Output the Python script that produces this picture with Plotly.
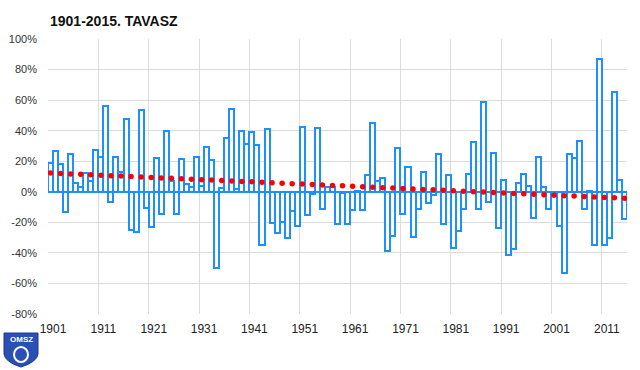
import numpy as np
import plotly.graph_objects as go

years = list(range(1901, 2016))
values = [
    19, 27, 18, -13.5, 25, 6, 3, 12, 7, 27.5,
    23, 56, -7, 22.5, 13, 47.5, -25, -26.5, 53.5, -10.5,
    -23, 22, -14.5, 39.5, 7, -14.5, 21.5, 5, 3, 23,
    3.5, 29, 20.5, -50, 2.5, 35.5, 54, 2, 40, 31.5,
    39, 30.5, -35, 41, -20.5, -27, -19.5, -30, -12.5, -22.5,
    42.5, -15, -1.5, 41.5, -11, 3, 3, -21, -1, -21,
    -12, 0.5, -12, 11, 45, 7, 9, -38.5, -29, 28.5,
    -14.5, 16.5, -29.5, -11.5, 13, -7.5, -2, 24.5, -21, 11,
    -36.5, -25.5, -11.5, 11.5, 32.5, -11.5, 59, -6.5, 25.5, -23.5,
    7.5, -41.5, -37.5, 5.5, 11.5, 3.5, -17, 22.5, 3, -11,
    -0.5, -22.5, -53, 24.5, 22, 33.5, -11, 0.5, -35, 87,
    -35, -30.5, 65.5, 7.5, -18,
]
x_tick_years = list(range(1901, 2016, 10))
y_ticks = list(range(-80, 101, 20))
y_tick_labels = [f"{v}%" for v in y_ticks]
title_text = "1901-2015. TAVASZ"

BLUE = "#1e8fff"

# linear trendline (least squares), shown as round dots
coef = np.polyfit(years, values, 1)
trend_years = years[::2]
trend_vals = np.polyval(coef, trend_years)

fig = go.Figure()
fig.add_trace(go.Bar(
    x=years, y=values, width=1,
    marker=dict(color="white", line=dict(color=BLUE, width=2)),
    showlegend=False, hoverinfo="x+y",
))
fig.add_trace(go.Scatter(
    x=trend_years, y=trend_vals, mode="markers",
    marker=dict(color="#ff0000", size=5.5, line=dict(width=0)),
    showlegend=False,
))

L, R, T, B = 48, 13, 39, 56
fig.update_layout(
    width=640, height=370,
    margin=dict(l=L, r=R, t=T, b=B, autoexpand=False),
    paper_bgcolor="white", plot_bgcolor="white",
    bargap=0,
    font=dict(family="Liberation Sans, Arial, sans-serif", color="#333"),
)
fig.update_xaxes(
    automargin=False,
    range=[1900.5, 2015.5], tickmode="array",
    tickvals=[y + 0.5 for y in x_tick_years],
    ticktext=[str(y) for y in x_tick_years],
    showgrid=False, ticks="", showline=False, zeroline=False,
    tickfont=dict(size=12, color="#222"), ticklabelstandoff=6,
    minor=dict(tickvals=[y - 0.5 for y in x_tick_years], showgrid=True,
               gridcolor="#dcdcdc", gridwidth=1, ticks=""),
)
fig.update_yaxes(
    automargin=False,
    range=[-80, 100], tickmode="array", tickvals=y_ticks, ticktext=y_tick_labels,
    showgrid=True, gridcolor="#dcdcdc", gridwidth=1,
    zeroline=True, zerolinecolor=BLUE, zerolinewidth=2,
    showline=False, ticks="", tickfont=dict(size=11, color="#333"),
    ticklabelstandoff=10,
)

W = 640 - L - R
H = 370 - T - B
def px(x):
    return (x - L) / W
def py(y):
    return (370 - B - y) / H

# title
fig.add_annotation(text="<b>" + title_text + "</b>", xref="paper", yref="paper",
                   x=px(48), y=py(21.5), xanchor="left", yanchor="middle",
                   showarrow=False, font=dict(size=14, color="#111"))

# OMSZ logo (simple shield)
path = (f"M {px(4)},{py(333)} L {px(38)},{py(333)} L {px(38)},{py(354)} "
        f"Q {px(37)},{py(362)} {px(21)},{py(367)} Q {px(5)},{py(362)} {px(4)},{py(354)} Z")
fig.add_shape(type="path", path=path, xref="paper", yref="paper",
              fillcolor="#2a4fb5", line=dict(color="#1c3a8f", width=1))
fig.add_shape(type="circle", xref="paper", yref="paper",
              x0=px(14), x1=px(28), y0=py(362), y1=py(347),
              fillcolor="rgba(0,0,0,0)", line=dict(color="white", width=2))
fig.add_annotation(text="<b>OMSZ</b>", xref="paper", yref="paper",
                   x=px(21), y=py(339), xanchor="center", yanchor="middle",
                   showarrow=False, font=dict(size=8, color="white"))

fig.write_html("out.html", config={"displayModeBar": False},
               post_script="document.body.style.margin='0px';")
